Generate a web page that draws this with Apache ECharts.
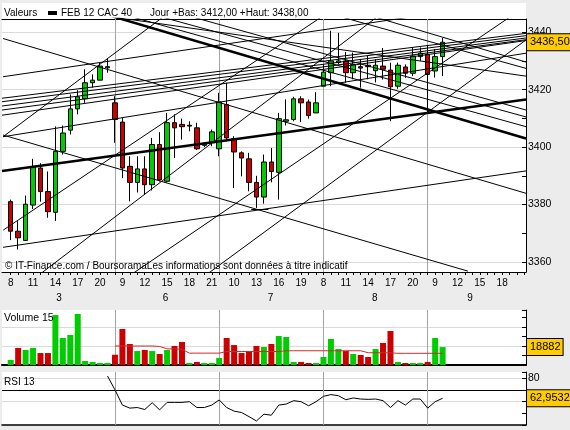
<!DOCTYPE html>
<html>
<head>
<meta charset="utf-8">
<script src="https://cdn.jsdelivr.net/npm/echarts@6/dist/echarts.min.js"></script>
<style>
html,body{margin:0;padding:0;background:#ececec;}
#chart{width:570px;height:430px;}
</style>
</head>
<body>
<div id="chart"></div>
<script>
// ---------------- data ----------------
// hourly candles: index 0 = day 3, 8h ... index 58 = day 9, 10h  -> [open, close, low, high]
const candles = [
[3381.0,3370.7,3367.6,3381.7],[3370.7,3368.4,3364.3,3374.2],[3367.5,3380.1,3367.3,3383.1],
[3379.8,3393.0,3378.4,3395.9],[3392.7,3384.5,3381.0,3394.4],[3384.5,3377.5,3375.4,3391.5],
[3377.3,3398.5,3374.3,3407.2],[3398.5,3404.9,3397.4,3407.5],[3405.9,3413.3,3404.4,3418.3],
[3413.3,3417.5,3411.4,3419.8],[3416.8,3422.4,3415.4,3427.1],[3422.4,3423.3,3420.7,3425.3],
[3423.3,3428.2,3423.3,3429.3],[3427.6,3428.0,3425.9,3430.8],
[3415.4,3409.6,3401.5,3417.7],[3408.7,3392.7,3389.2,3410.2],[3393.3,3387.7,3381.1,3396.8],
[3387.7,3392.4,3384.2,3396.8],[3392.4,3386.9,3383.4,3396.8],[3386.9,3400.9,3384.9,3403.2],
[3400.9,3388.6,3388.0,3405.2],[3388.1,3408.5,3387.7,3411.9],[3408.5,3406.7,3396.2,3411.4],
[3407.9,3407.1,3402.6,3409.9],[3407.3,3407.6,3405.5,3409.0],[3406.7,3399.4,3399.0,3408.5],
[3400.6,3401.1,3400.0,3401.6],[3401.5,3405.3,3400.3,3406.1],
[3399.4,3415.7,3396.8,3418.9],[3414.8,3403.2,3402.0,3422.4],[3402.9,3398.3,3385.7,3403.8],
[3398.0,3396.2,3389.8,3398.5],[3395.9,3387.7,3384.6,3398.0],[3387.7,3382.6,3378.8,3390.0],
[3382.6,3394.8,3380.3,3397.4],[3394.8,3391.5,3387.7,3399.7],[3391.2,3409.9,3381.7,3411.9],
[3409.0,3409.5,3407.5,3416.6],[3409.6,3416.8,3409.0,3417.5],[3416.8,3415.4,3408.7,3417.7],
[3415.7,3411.0,3409.9,3416.6],[3411.9,3415.4,3411.9,3419.1],
[3421.2,3426.1,3421.2,3428.8],[3425.9,3430.0,3421.2,3440.5],[3429.5,3430.0,3428.8,3439.8],
[3430.0,3425.9,3422.4,3433.1],[3425.9,3428.8,3423.6,3432.9],[3428.0,3427.5,3420.7,3430.6],
[3428.5,3428.0,3423.6,3431.7],[3426.6,3428.5,3422.5,3430.6],[3428.2,3427.1,3423.5,3434.5],
[3426.8,3421.0,3409.0,3429.4],[3421.2,3428.5,3420.3,3429.4],[3427.9,3425.7,3424.1,3428.8],
[3425.7,3431.7,3424.7,3434.7],[3431.5,3432.7,3430.0,3434.7],
[3432.3,3425.3,3412.0,3435.5],[3426.5,3431.5,3424.2,3434.1],[3431.5,3436.5,3424.7,3438.0]
];
const volumes = [
5300,17900,15800,17900,12600,12600,52600,28400,31600,53700,4200,3200,2100,2100,
10800,37900,22100,14700,15800,14700,11600,15800,20000,24200,2100,3200,2100,2100,
7400,28400,21000,12600,14700,20000,18900,22100,30500,29500,3200,3200,2100,2100,
8400,27400,16800,14700,11600,10500,8400,16800,23200,35800,3200,2100,2100,2100,
3200,28400,18882
];
// 1 = green volume bar, 0 = red
const volumeUp = [
1,0,1,1,0,0,1,1,1,1,1,1,1,1,
0,0,0,1,0,1,0,1,0,0,1,0,1,1,
1,0,0,0,0,0,1,0,1,1,1,0,0,1,
1,1,1,0,1,0,0,1,0,0,1,0,1,1,
0,1,1
];
const volumeMAStart = 14;
const volumeMA15 = [
20000,20000,20000,20000,20000,20000,19500,17000,17000,16500,
12500,12500,12500,12500,12500,14200,14200,14200,14200,14200,14200,14200,14200,
15000,15000,15000,15000,15000,15000,15000,15000,15000,15000,15000,
12900,12900,12900,12900,12300,12300,12300,12300,12300,12300,12300
];
const rsiStart = 13;
const rsi13 = [
82,70.2,57.1,54.5,55,53.3,59.1,53,59.4,59.4,59.4,60,55,55,57.1,
61.5,55,51.9,50.7,47.2,43.5,49.3,48.4,57.1,58,60.9,60,56.5,60,
64.6,66.1,65.2,61.7,63.2,62.3,62,62.3,60.9,55,60.9,57.1,62.3,62.3,
54.5,60,62.9532
];
const priceLabels = [3360,3380,3400,3420,3440];
const hourLabels = ['8','11','14','17','20','9','12','15','18','21','10','13','16','19','8','11','14','17','20','9','12','15','18'];
const dayLabels = ['3','6','7','8','9'];
const dayLabelIndex = [6.5,20.8,34.9,48.9,61.7];
const dayStartIndex = [14,28,42,56];
// trend lines drawn on the chart: [index, price, index, price]
const thickLines = [
[-1.17,3391.7,69.2,3416.6],
[13.3,3445.8,69.2,3403.0]
];
const thinLines = [
[-1.03,3437.8,69.2,3383.9],
[-1.03,3404.2,61.4,3356.8],
[-1.03,3365.1,69.2,3391.7],
[-1.0,3371.1,43.1,3447.7],
[2.9,3353.7,50.4,3447.7],
[15.1,3353.7,68.4,3447.7],
[25.3,3353.7,69.2,3437.3],
[-1.03,3403.6,21.7,3447.7],
[-1.03,3403.6,69.2,3432.7],
[-1.03,3424.5,60.0,3447.7],
[-1.17,3417.0,69.2,3439.6],
[-1.17,3415.8,69.2,3438.8],
[-1.17,3414.3,69.2,3438.0],
[-1.17,3412.9,69.2,3437.4],
[-1.17,3411.1,69.2,3437.1],
[16.9,3447.7,69.2,3410.5],
[13.0,3447.7,69.2,3407.1],
[21.1,3447.7,69.2,3412.9],
[41.1,3447.7,69.2,3427.4],
[45.8,3447.7,69.2,3429.6],
[7.3,3447.7,69.2,3424.7],
[32.3,3378.4,34.6,3378.4]
];

// ---------------- chart ----------------
const FONT = '"Liberation Sans", Arial, sans-serif';
const XMIN = -1.17, XMAX = 69.2;
const UP = '#00cc00', DOWN = '#cc0000';
const last = candles.length - 1;

const candleData = candles.map((c, i) => [i, c[0], c[1], c[2], c[3]]);
const volData = volumes.map((v, i) => ({ value: [i, v], itemStyle: { color: volumeUp[i] ? UP : DOWN } }));
const maData = volumeMA15.map((v, k) => [k + volumeMAStart, v]);
const rsiData = rsi13.map((v, k) => [k + rsiStart, v]);
const hourIndex = hourLabels.map((_, k) => k * 3);
const tickIndex = Array.from({ length: 70 }, (_, i) => i);
const toLines = arr => arr.map(l => ({ coords: [[l[0], l[1]], [l[2], l[3]]] }));
const dayMarks = dayStartIndex.map(d => ({ xAxis: d }));
const GRIDLINE = '#a4a4a4';
const dayMarkLine = {
  silent: true, symbol: 'none', z: 1, animation: false,
  label: { show: false },
  lineStyle: { color: GRIDLINE, type: 'solid', width: 1 },
  data: dayMarks
};

const txt = (size) => ({ fontSize: size, fontWeight: 'normal', color: '#000', fontFamily: FONT });
const hiddenX = (grid, extra) => Object.assign({
  type: 'value', gridIndex: grid, min: XMIN, max: XMAX,
  axisLabel: { show: false }, axisTick: { show: false }, splitLine: { show: false },
  axisLine: { show: false, onZero: false }
}, extra || {});

const tagAxis = (grid, min, max, value, fmt) => ({
  type: 'value', gridIndex: grid, position: 'right', min: min, max: max, z: 10,
  axisLine: { show: false, onZero: false }, axisTick: { show: false }, splitLine: { show: false },
  minorTick: { show: false },
  axisLabel: {
    customValues: [value], formatter: fmt, margin: 1,
    fontSize: 11, color: '#000', fontFamily: FONT,
    backgroundColor: '#ffcc00', borderColor: '#000', borderWidth: 1,
    padding: [3, 2, 2, 3]
  }
});

const valueAxis = (grid, min, max, extra) => Object.assign({
  type: 'value', gridIndex: grid, position: 'right', min: min, max: max,
  axisLine: { show: true, onZero: false, lineStyle: { color: '#000' } },
  axisTick: { show: true, inside: true, length: 4, lineStyle: { color: '#000' } },
  minorTick: { show: true, splitNumber: 2, length: 4, lineStyle: { color: '#000' } },
  splitLine: { show: true, showMinLine: false, showMaxLine: false, lineStyle: { color: '#dadada', width: 1 } }
}, extra);

const option = {
  animation: false,
  backgroundColor: '#ececec',
  textStyle: { fontFamily: FONT },
  graphic: [
    { type: 'rect', shape: { x: 2, y: 3, width: 524, height: 16 }, style: { fill: '#fff' }, z: -1 }
  ],
  title: [
    { text: 'Valeurs', left: 4, top: 8, padding: 0, textStyle: txt(10) },
    { text: 'Jour +Bas: 3412,00 +Haut: 3438,00', left: 150, top: 8, padding: 0, textStyle: txt(10) },
    { text: 'Volume 15', left: 4, top: 313, padding: 0, textStyle: txt(10.5) },
    { text: 'RSI 13', left: 4, top: 377, padding: 0, textStyle: txt(10) },
    { text: '\u00a9 IT-Finance.com / BoursoramaLes informations sont donn\u00e9es \u00e0 titre indicatif',
      left: 5, top: 261, padding: 0, textStyle: txt(10), z: 20 }
  ],
  legend: {
    left: 48, top: 8, padding: 0, itemGap: 0, itemWidth: 9, itemHeight: 4,
    selectedMode: false,
    textStyle: { fontSize: 10, color: '#000', fontFamily: FONT, padding: [0, 0, 0, -1] },
    data: [{ name: 'FEB 12 CAC 40', icon: 'rect', itemStyle: { color: '#000', borderWidth: 0 } }]
  },
  grid: [
    { left: 2, top: 19, width: 524, height: 253, show: true, backgroundColor: '#fff', borderWidth: 0, outerBoundsMode: 'none' },
    { left: 2, top: 310, width: 524, height: 55, show: true, backgroundColor: '#fff', borderWidth: 0, outerBoundsMode: 'none' },
    { left: 2, top: 372, width: 524, height: 53, show: true, backgroundColor: '#fff', borderWidth: 0, outerBoundsMode: 'none' }
  ],
  xAxis: [
    {
      type: 'value', gridIndex: 0, min: XMIN, max: XMAX, position: 'bottom',
      axisLine: { show: true, onZero: false, lineStyle: { color: '#000', width: 1 } },
      axisTick: { show: true, customValues: tickIndex, length: 3, lineStyle: { color: '#000' } },
      axisLabel: {
        customValues: hourIndex, formatter: v => hourLabels[Math.round(v / 3)],
        fontSize: 10, color: '#000', margin: 6, fontFamily: FONT
      },
      splitLine: { show: false }
    },
    hiddenX(0, {
      position: 'bottom', offset: 15,
      axisLabel: {
        show: true, customValues: dayLabelIndex,
        formatter: v => dayLabels[dayLabelIndex.indexOf(v)],
        fontSize: 10, color: '#000', margin: 6, fontFamily: FONT
      }
    }),
    hiddenX(0, { position: 'top', axisLine: { show: true, onZero: false, lineStyle: { color: '#000', width: 1 } } }),
    hiddenX(1, { position: 'bottom', axisLine: { show: true, onZero: false, lineStyle: { color: '#000', width: 2 } } }),
    hiddenX(2, { position: 'bottom', axisLine: { show: true, onZero: false, lineStyle: { color: '#000', width: 1.5 } } })
  ],
  yAxis: [
    valueAxis(0, 3356.5, 3444.6, {
      splitNumber: 5,
      axisLabel: { customValues: priceLabels, formatter: v => String(v), fontSize: 10.5, color: '#000', margin: 2, fontFamily: FONT }
    }),
    tagAxis(0, 3356.5, 3444.6, candles[last][1], v => v.toFixed(2).replace('.', ',')),
    valueAxis(1, 0, 57900, { interval: 20000, axisLabel: { show: false } }),
    tagAxis(1, 0, 57900, volumes[last], v => String(Math.round(v))),
    valueAxis(2, 40, 85.5, {
      interval: 20,
      axisLabel: { customValues: [80], formatter: v => String(v), fontSize: 10.5, color: '#000', margin: 2, fontFamily: FONT }
    }),
    tagAxis(2, 40, 85.5, rsi13[rsi13.length - 1], v => String(v).replace('.', ','))
  ],
  series: [
    {
      name: 'FEB 12 CAC 40', type: 'candlestick', xAxisIndex: 0, yAxisIndex: 0,
      data: candleData, barWidth: 5, z: 2,
      itemStyle: { color: UP, color0: DOWN, borderColor: '#000', borderColor0: '#000', borderWidth: 1 },
      markLine: dayMarkLine
    },
    {
      type: 'lines', coordinateSystem: 'cartesian2d', xAxisIndex: 0, yAxisIndex: 0,
      silent: true, z: 3, clip: true, symbol: ['none', 'none'],
      lineStyle: { color: '#000', width: 1, opacity: 1, curveness: 0 },
      data: toLines(thinLines)
    },
    {
      type: 'lines', coordinateSystem: 'cartesian2d', xAxisIndex: 0, yAxisIndex: 0,
      silent: true, z: 3, clip: true, symbol: ['none', 'none'],
      lineStyle: { color: '#000', width: 2.5, opacity: 1, curveness: 0 },
      data: toLines(thickLines)
    },
    {
      type: 'bar', xAxisIndex: 3, yAxisIndex: 2, data: volData, barWidth: 6, z: 2,
      markLine: dayMarkLine
    },
    {
      type: 'line', xAxisIndex: 3, yAxisIndex: 2, data: maData, showSymbol: false, symbol: 'none',
      lineStyle: { color: '#d02a2a', width: 1 }, z: 3
    },
    {
      type: 'line', xAxisIndex: 4, yAxisIndex: 4, data: rsiData, showSymbol: false, symbol: 'none',
      lineStyle: { color: '#000', width: 1 }, z: 3,
      markLine: {
        silent: true, symbol: 'none', z: 1, animation: false, label: { show: false },
        data: [
          { yAxis: 70, lineStyle: { color: '#000', type: 'solid', width: 1 } }
        ].concat(dayMarks.map(d => Object.assign({ lineStyle: { color: GRIDLINE, type: 'solid', width: 1 } }, d)))
      }
    }
  ]
};

const chart = echarts.init(document.getElementById('chart'), null, { renderer: 'canvas' });
chart.setOption(option);
</script>
</body>
</html>
